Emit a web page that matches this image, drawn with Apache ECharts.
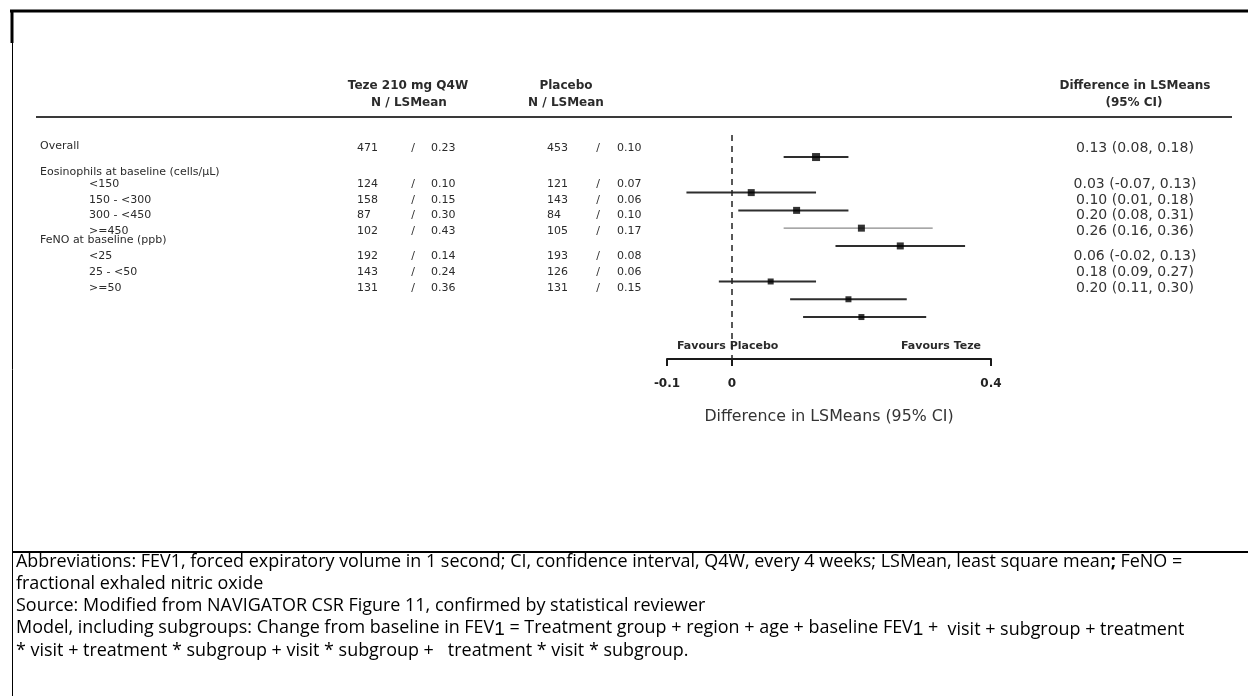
<!DOCTYPE html>
<html>
<head>
<meta charset="utf-8">
<title>FEV1 subgroup forest plot</title>
<script src="https://cdn.jsdelivr.net/npm/echarts@6/dist/echarts.min.js"></script>
<style>
  html, body { margin: 0; padding: 0; background: #ffffff; }
  #chart { width: 1248px; height: 696px; }
</style>
</head>
<body>
<div id="chart"></div>
<script>
// ---- Data -----------------------------------------------------------------
const subgroups = ['Overall', '<150', '150 - <300', '300 - <450', '>=450', '<25', '25 - <50', '>=50'];
const groupHeaders = ['Eosinophils at baseline (cells/\u03bcL)', 'FeNO at baseline (ppb)'];
const groupStarts = [1, 5];               // first subgroup index of each header group
const tezeN = [471, 124, 158, 87, 102, 192, 143, 131];
const tezeLSMean = ['0.23', '0.10', '0.15', '0.30', '0.43', '0.14', '0.24', '0.36'];
const placeboN = [453, 121, 143, 84, 105, 193, 126, 131];
const placeboLSMean = ['0.10', '0.07', '0.06', '0.10', '0.17', '0.08', '0.06', '0.15'];
const diffEstimate = [0.13, 0.03, 0.10, 0.20, 0.26, 0.06, 0.18, 0.20];
const diffLower = [0.08, -0.07, 0.01, 0.08, 0.16, -0.02, 0.09, 0.11];
const diffUpper = [0.18, 0.13, 0.18, 0.31, 0.36, 0.13, 0.27, 0.30];
const xTicks = [-0.1, 0, 0.4];

const footnotes = [
  'Abbreviations: FEV1, forced expiratory volume in 1 second; CI, confidence interval, Q4W, every 4 weeks; LSMean, least square mean{b|;} FeNO =',
  'fractional exhaled nitric oxide',
  'Source: Modified from NAVIGATOR CSR Figure 11, confirmed by statistical reviewer',
  'Model, including subgroups: Change from baseline in FEV{s|1} = Treatment group + region + age + baseline FEV{s|1} + {d| visit + subgroup + treatment}',
  '* visit + treatment * subgroup + visit * subgroup +   treatment * visit * subgroup.'
];

// ---- Layout ---------------------------------------------------------------
const TXT = '#2b2b2b';
const tableFont = '11px "DejaVu Sans"';
const ciFont = '14px "DejaVu Sans"';
const headFont = 'bold 12px "DejaVu Sans"';

// footnote font size chosen so the first footnote line spans the text box
const FOOT_FAMILY = '"Open Sans"';
const FOOT_WIDTH = 1166;
function fitFootSize() {
  const ctx = document.createElement('canvas').getContext('2d');
  ctx.font = '100px ' + FOOT_FAMILY;
  const w = ctx.measureText(footnotes[0].replace('{b|;}', ';')).width;
  return Math.min(19, Math.max(13, 100 * FOOT_WIDTH / w));
}
const footSize = fitFootSize();
const footFont = footSize.toFixed(2) + 'px ' + FOOT_FAMILY;

// forest row slot: subgroup index shifted by the group header rows above it
function forestSlot(i) {
  return i + groupStarts.filter(s => s <= i).length;
}
// vertical text positions of the table rows
const tableRowY = [148, 184, 200, 215, 231, 256, 272, 288];
const groupHeaderY = [172, 240];

const graphics = [];

// frame lines
function hline(x1, x2, y, w, color) {
  graphics.push({ type: 'line', silent: true, shape: { x1: x1, y1: y, x2: x2, y2: y },
    style: { stroke: color || '#000', lineWidth: w } });
}
function vline(x, y1, y2, w, color) {
  graphics.push({ type: 'line', silent: true, shape: { x1: x, y1: y1, x2: x, y2: y2 },
    style: { stroke: color || '#000', lineWidth: w } });
}
hline(10, 1248, 11, 3);
vline(12, 10, 43, 3);
vline(12.5, 43, 696, 1);
hline(12, 1248, 552, 2);

function text(str, x, y, font, align, color) {
  graphics.push({
    type: 'text', silent: true,
    style: { text: str, x: x, y: y, font: font, fill: color || TXT,
      textAlign: align || 'left', textVerticalAlign: 'middle' }
  });
}

// column headers
text('Teze 210 mg Q4W', 408, 86, headFont, 'center');
text('N / LSMean', 409, 103, headFont, 'center');
text('Placebo', 566, 86, headFont, 'center');
text('N / LSMean', 566, 103, headFont, 'center');
text('Difference in LSMeans', 1135, 86, headFont, 'center');
text('(95% CI)', 1134, 103, headFont, 'center');
hline(36, 1232, 117, 2, '#3a3a3a');

// group headers
groupHeaders.forEach((g, k) => text(g, 40, groupHeaderY[k], tableFont, 'left'));

// table rows
subgroups.forEach((s, i) => {
  const y = tableRowY[i];
  const indented = i > 0;
  text(s, indented ? 89 : 40, y - (indented ? 0 : 2), tableFont, 'left');
  text(String(tezeN[i]), 357, y, tableFont, 'left');
  text('/', 413, y, tableFont, 'center');
  text(tezeLSMean[i], 431, y, tableFont, 'left');
  text(String(placeboN[i]), 547, y, tableFont, 'left');
  text('/', 598, y, tableFont, 'center');
  text(placeboLSMean[i], 617, y, tableFont, 'left');
  const ci = diffEstimate[i].toFixed(2) + ' (' + diffLower[i].toFixed(2) + ', ' + diffUpper[i].toFixed(2) + ')';
  text(ci, 1135, y, ciFont, 'center', '#333');
});

// direction labels under the plot
text('Favours Placebo', 677, 346, 'bold 11px "DejaVu Sans"', 'left');
text('Favours Teze', 981, 346, 'bold 11px "DejaVu Sans"', 'right');

// footnotes
const footY = [562, 584, 606, 628, 651];
footnotes.forEach((line, k) => {
  graphics.push({
    type: 'text', silent: true,
    style: {
      text: line, x: 16, y: footY[k], font: footFont, fill: '#000',
      textAlign: 'left', textVerticalAlign: 'middle', lineHeight: 22,
      rich: {
        b: { fontFamily: 'Open Sans', fontSize: footSize, fontWeight: 'bold', lineHeight: 22 },
        s: { fontFamily: 'Liberation Sans', fontSize: footSize + 1, lineHeight: 17, verticalAlign: 'bottom' },
        d: { fontFamily: 'Open Sans', fontSize: footSize, lineHeight: 18, verticalAlign: 'bottom' }
      }
    }
  });
});

// ---- Chart ----------------------------------------------------------------
const ciData = subgroups.map((s, i) => [diffLower[i], diffUpper[i], forestSlot(i), i]);
const pointData = subgroups.map((s, i) => ({
  value: [diffEstimate[i], forestSlot(i)],
  symbolSize: i === 0 ? 8 : (i < 5 ? 7 : 6)
}));

const chart = echarts.init(document.getElementById('chart'), null, { renderer: 'canvas' });
chart.setOption({
  animation: false,
  backgroundColor: '#ffffff',
  grid: { left: 667, width: 324, top: 135, height: 224, containLabel: false, outerBoundsMode: 'none' },
  xAxis: {
    type: 'value', min: -0.1, max: 0.4,
    splitLine: { show: false },
    axisLine: { show: true, onZero: false, lineStyle: { color: '#1a1a1a', width: 2 } },
    axisTick: { show: true, customValues: xTicks, length: 7, lineStyle: { color: '#1a1a1a', width: 2 } },
    axisLabel: {
      customValues: xTicks, margin: 19, color: '#222',
      fontFamily: 'DejaVu Sans', fontSize: 12, fontWeight: 'bold',
      formatter: v => String(v)
    },
    name: 'Difference in LSMeans (95% CI)', nameLocation: 'middle', nameGap: 50,
    nameTextStyle: { fontFamily: 'DejaVu Sans', fontSize: 15.8, color: '#333' }
  },
  yAxis: { type: 'value', inverse: true, min: -1.24, max: 11.36, show: false },
  series: [
    {
      type: 'custom',
      data: ciData,
      encode: { x: [0, 1], y: 2 },
      renderItem: function (params, api) {
        const a = api.coord([api.value(0), api.value(2)]);
        const b = api.coord([api.value(1), api.value(2)]);
        // the 300 - <450 interval is printed lighter
        const light = api.value(3) === 3;
        return {
          type: 'line',
          shape: { x1: a[0], y1: a[1], x2: b[0], y2: b[1] },
          style: { stroke: light ? '#8a8a8a' : '#2e2e2e', lineWidth: light ? 1.4 : 2 }
        };
      },
      markLine: {
        silent: true, symbol: 'none', label: { show: false },
        lineStyle: { color: '#222', type: [6, 5], width: 1.5 },
        data: [{ xAxis: 0 }]
      },
      z: 2
    },
    {
      type: 'scatter',
      symbol: 'rect',
      data: pointData,
      itemStyle: { color: '#000' },
      z: 3
    }
  ],
  graphic: graphics
});
</script>
</body>
</html>
